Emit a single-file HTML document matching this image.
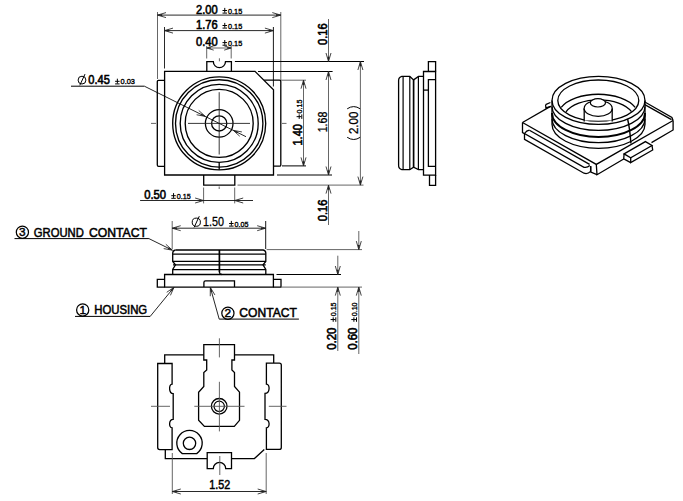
<!DOCTYPE html>
<html><head><meta charset="utf-8"><style>
html,body{margin:0;padding:0;background:#fff;overflow:hidden;}
svg{display:block;font-family:"Liberation Sans",sans-serif;}
</style></head><body>
<svg width="683" height="501" viewBox="0 0 683 501">
<rect width="683" height="501" fill="#fff"/>
<line x1="157.5" y1="12" x2="157.5" y2="79" stroke="#555" stroke-width="0.9"/>
<line x1="280.8" y1="12" x2="280.8" y2="80" stroke="#555" stroke-width="0.9"/>
<line x1="157.5" y1="15.1" x2="280.8" y2="15.1" stroke="#111" stroke-width="0.9"/>
<path d="M166.00,12.60 L157.5,15.1 L166.00,17.60" stroke="#222" stroke-width="0.85" fill="none"/>
<path d="M162.18,14.05 L157.5,15.1 L162.18,16.15Z" fill="#222"/>
<path d="M272.30,17.60 L280.8,15.1 L272.30,12.60" stroke="#222" stroke-width="0.85" fill="none"/>
<path d="M276.12,16.15 L280.8,15.1 L276.12,14.05Z" fill="#222"/>
<text x="196" y="13.6" font-size="12.2" font-weight="normal" text-anchor="start" textLength="21.7" lengthAdjust="spacingAndGlyphs" stroke="#000" stroke-width="0.6" fill="#000">2.00</text>
<g>
<line x1="222.5" y1="10.5" x2="227.0" y2="10.5" stroke="#000" stroke-width="1.0"/>
<line x1="224.75" y1="7.9" x2="224.75" y2="12.7" stroke="#000" stroke-width="1.0"/>
<line x1="222.5" y1="13.1" x2="227.0" y2="13.1" stroke="#000" stroke-width="1.0"/>
<text x="228.0" y="13.5" font-size="7.5" font-weight="normal" text-anchor="start" textLength="14.200000000000001" lengthAdjust="spacingAndGlyphs" stroke="#000" stroke-width="0.35" fill="#000">0.15</text>
</g>
<line x1="164.5" y1="27" x2="164.5" y2="68.5" stroke="#111" stroke-width="0.9"/>
<line x1="273.4" y1="27" x2="273.4" y2="86.5" stroke="#000" stroke-width="0.9"/>
<line x1="164.5" y1="30.6" x2="273.4" y2="30.6" stroke="#111" stroke-width="0.9"/>
<path d="M173.00,28.10 L164.5,30.6 L173.00,33.10" stroke="#222" stroke-width="0.85" fill="none"/>
<path d="M169.18,29.55 L164.5,30.6 L169.18,31.65Z" fill="#222"/>
<path d="M264.90,33.10 L273.4,30.6 L264.90,28.10" stroke="#222" stroke-width="0.85" fill="none"/>
<path d="M268.72,31.65 L273.4,30.6 L268.72,29.55Z" fill="#222"/>
<text x="196" y="28.5" font-size="12.2" font-weight="normal" text-anchor="start" textLength="21.7" lengthAdjust="spacingAndGlyphs" stroke="#000" stroke-width="0.6" fill="#000">1.76</text>
<g>
<line x1="222.5" y1="25.5" x2="227.0" y2="25.5" stroke="#000" stroke-width="1.0"/>
<line x1="224.75" y1="22.9" x2="224.75" y2="27.7" stroke="#000" stroke-width="1.0"/>
<line x1="222.5" y1="28.1" x2="227.0" y2="28.1" stroke="#000" stroke-width="1.0"/>
<text x="228.0" y="28.5" font-size="7.5" font-weight="normal" text-anchor="start" textLength="14.200000000000001" lengthAdjust="spacingAndGlyphs" stroke="#000" stroke-width="0.35" fill="#000">0.15</text>
</g>
<line x1="206.7" y1="46" x2="206.7" y2="58.5" stroke="#555" stroke-width="0.9"/>
<line x1="231.2" y1="46" x2="231.2" y2="58.5" stroke="#555" stroke-width="0.9"/>
<line x1="206.7" y1="48" x2="231.2" y2="48" stroke="#555" stroke-width="0.9"/>
<path d="M213.70,45.90 L206.7,48 L213.70,50.10" stroke="#222" stroke-width="0.85" fill="none"/>
<path d="M210.55,46.95 L206.7,48 L210.55,49.05Z" fill="#222"/>
<path d="M224.20,50.10 L231.2,48 L224.20,45.90" stroke="#222" stroke-width="0.85" fill="none"/>
<path d="M227.35,49.05 L231.2,48 L227.35,46.95Z" fill="#222"/>
<text x="196" y="45.9" font-size="12.2" font-weight="normal" text-anchor="start" textLength="21.7" lengthAdjust="spacingAndGlyphs" stroke="#000" stroke-width="0.6" fill="#000">0.40</text>
<g>
<line x1="222.5" y1="42.6" x2="227.0" y2="42.6" stroke="#000" stroke-width="1.0"/>
<line x1="224.75" y1="40.0" x2="224.75" y2="44.800000000000004" stroke="#000" stroke-width="1.0"/>
<line x1="222.5" y1="45.2" x2="227.0" y2="45.2" stroke="#000" stroke-width="1.0"/>
<text x="228.0" y="45.6" font-size="7.5" font-weight="normal" text-anchor="start" textLength="14.200000000000001" lengthAdjust="spacingAndGlyphs" stroke="#000" stroke-width="0.35" fill="#000">0.15</text>
</g>
<path d="M164.6,71.4 L255,71.4 L273.5,89.8 L273.5,175 L164.6,175 Z" stroke="#000" stroke-width="1.3" fill="none" />
<path d="M206.8,71.4 L206.8,61.6 L213.3,61.6 A6.1,6.1 0 0 0 225.5,61.6 L231.4,61.6 L231.4,71.4" stroke="#000" stroke-width="1.3" fill="none" />
<line x1="219.4" y1="58.3" x2="219.4" y2="61.3" stroke="#555" stroke-width="0.9"/>
<path d="M203.7,175 L203.7,185.1 L234.8,185.1 L234.8,175" stroke="#000" stroke-width="1.3" fill="none" />
<path d="M164.6,80.3 L158.4,80.3 Q157.3,80.3 157.3,81.4 L157.3,165 Q157.3,166.3 158.6,166.3 L164.6,166.3" stroke="#000" stroke-width="1.3" fill="none" />
<path d="M264.1,80.2 L279.5,80.2 Q280.8,80.2 280.8,81.5 L280.8,165 Q280.8,166.2 279.6,166.2 L273.5,166.2" stroke="#000" stroke-width="1.3" fill="none" />
<circle cx="219.2" cy="123.4" r="46.5" stroke="#000" stroke-width="1.35" fill="none"/>
<circle cx="219.2" cy="123.4" r="43.7" stroke="#000" stroke-width="1.35" fill="none"/>
<circle cx="219.2" cy="123.4" r="39.0" stroke="#000" stroke-width="1.35" fill="none"/>
<circle cx="219.2" cy="123.4" r="34.0" stroke="#000" stroke-width="1.35" fill="none"/>
<circle cx="219.2" cy="123.4" r="13.8" stroke="#000" stroke-width="1.3" fill="none"/>
<circle cx="219.2" cy="123.4" r="7.6" stroke="#000" stroke-width="1.3" fill="none"/>
<line x1="219.2" y1="92.2" x2="219.2" y2="154.5" stroke="#222" stroke-width="0.9"/>
<line x1="188" y1="123.4" x2="250" y2="123.4" stroke="#222" stroke-width="0.9"/>
<line x1="151" y1="123.4" x2="156" y2="123.4" stroke="#555" stroke-width="0.9"/>
<line x1="282" y1="123.4" x2="286.5" y2="123.4" stroke="#555" stroke-width="0.9"/>
<line x1="219.2" y1="162.6" x2="219.2" y2="169.8" stroke="#000" stroke-width="1.3"/>
<line x1="219.2" y1="186.5" x2="219.2" y2="189" stroke="#555" stroke-width="0.9"/>
<line x1="71" y1="86.2" x2="144.4" y2="86.2" stroke="#000" stroke-width="1.0"/>
<line x1="144.4" y1="86.2" x2="219.2" y2="123.4" stroke="#000" stroke-width="0.85"/>
<path d="M196.62,114.76 L205.3,116.4 L198.76,110.47" stroke="#222" stroke-width="0.85" fill="none"/>
<path d="M200.65,115.26 L205.3,116.4 L201.58,113.38Z" fill="#222"/>
<line x1="219.2" y1="123.4" x2="246" y2="136.7" stroke="#000" stroke-width="0.85"/>
<path d="M241.88,131.94 L233.2,130.3 L239.74,136.23" stroke="#222" stroke-width="0.85" fill="none"/>
<path d="M237.85,131.44 L233.2,130.3 L236.92,133.32Z" fill="#222"/>
<circle cx="82" cy="80.1" r="3.9" stroke="#000" stroke-width="1.0" fill="none"/>
<line x1="79.8" y1="85.3" x2="85.0" y2="74.1" stroke="#000" stroke-width="1.0"/>
<text x="88.3" y="83.9" font-size="12.2" font-weight="normal" text-anchor="start" textLength="21.5" lengthAdjust="spacingAndGlyphs" stroke="#000" stroke-width="0.6" fill="#000">0.45</text>
<g>
<line x1="115.1" y1="81.3" x2="119.6" y2="81.3" stroke="#000" stroke-width="1.0"/>
<line x1="117.35" y1="78.7" x2="117.35" y2="83.5" stroke="#000" stroke-width="1.0"/>
<line x1="115.1" y1="83.89999999999999" x2="119.6" y2="83.89999999999999" stroke="#000" stroke-width="1.0"/>
<text x="120.6" y="84.3" font-size="7.5" font-weight="normal" text-anchor="start" textLength="14.4" lengthAdjust="spacingAndGlyphs" stroke="#000" stroke-width="0.35" fill="#000">0.03</text>
</g>
<line x1="234.9" y1="61.5" x2="364" y2="61.5" stroke="#000" stroke-width="1.0"/>
<line x1="258" y1="71.5" x2="332.6" y2="71.5" stroke="#000" stroke-width="1.0"/>
<line x1="281" y1="80.2" x2="306" y2="80.2" stroke="#555" stroke-width="0.9"/>
<line x1="282" y1="165.9" x2="306" y2="165.9" stroke="#000" stroke-width="1.0"/>
<line x1="277" y1="175" x2="332" y2="175" stroke="#000" stroke-width="1.0"/>
<line x1="237.5" y1="185.1" x2="363.5" y2="185.1" stroke="#555" stroke-width="0.9"/>
<line x1="328.5" y1="19" x2="328.5" y2="61.5" stroke="#555" stroke-width="0.9"/>
<path d="M326.00,53.00 L328.5,61.5 L331.00,53.00" stroke="#222" stroke-width="0.85" fill="none"/>
<path d="M327.45,56.83 L328.5,61.5 L329.55,56.83Z" fill="#222"/>
<line x1="328.5" y1="71.5" x2="328.5" y2="175" stroke="#555" stroke-width="0.9"/>
<path d="M331.00,80.00 L328.5,71.5 L326.00,80.00" stroke="#222" stroke-width="0.85" fill="none"/>
<path d="M329.55,76.17 L328.5,71.5 L327.45,76.17Z" fill="#222"/>
<path d="M326.00,166.50 L328.5,175 L331.00,166.50" stroke="#222" stroke-width="0.85" fill="none"/>
<path d="M327.45,170.32 L328.5,175 L329.55,170.32Z" fill="#222"/>
<text x="327.4" y="45" font-size="12.2" font-weight="normal" text-anchor="start" transform="rotate(-90 327.4 45)" textLength="21.8" lengthAdjust="spacingAndGlyphs" stroke="#000" stroke-width="0.6" fill="#000">0.16</text>
<text x="327.4" y="132.3" font-size="12.2" font-weight="normal" text-anchor="start" transform="rotate(-90 327.4 132.3)" textLength="20.6" lengthAdjust="spacingAndGlyphs" stroke="#000" stroke-width="0.3" fill="#000">1.68</text>
<line x1="328.5" y1="185.1" x2="328.5" y2="225" stroke="#555" stroke-width="0.9"/>
<path d="M331.00,193.60 L328.5,185.1 L326.00,193.60" stroke="#222" stroke-width="0.85" fill="none"/>
<path d="M329.55,189.78 L328.5,185.1 L327.45,189.78Z" fill="#222"/>
<text x="327.2" y="221.3" font-size="12.2" font-weight="normal" text-anchor="start" transform="rotate(-90 327.2 221.3)" textLength="21.8" lengthAdjust="spacingAndGlyphs" stroke="#000" stroke-width="0.6" fill="#000">0.16</text>
<line x1="303.5" y1="80.2" x2="303.5" y2="165.9" stroke="#555" stroke-width="0.9"/>
<path d="M306.00,88.70 L303.5,80.2 L301.00,88.70" stroke="#222" stroke-width="0.85" fill="none"/>
<path d="M304.55,84.88 L303.5,80.2 L302.45,84.88Z" fill="#222"/>
<path d="M301.00,157.40 L303.5,165.9 L306.00,157.40" stroke="#222" stroke-width="0.85" fill="none"/>
<path d="M302.45,161.22 L303.5,165.9 L304.55,161.22Z" fill="#222"/>
<text x="301.6" y="145.5" font-size="12.2" font-weight="normal" text-anchor="start" transform="rotate(-90 301.6 145.5)" textLength="21.4" lengthAdjust="spacingAndGlyphs" stroke="#000" stroke-width="0.6" fill="#000">1.40</text>
<g transform="rotate(-90 302.2 119)">
<line x1="302.3" y1="116.0" x2="306.8" y2="116.0" stroke="#000" stroke-width="1.0"/>
<line x1="304.55" y1="113.4" x2="304.55" y2="118.2" stroke="#000" stroke-width="1.0"/>
<line x1="302.3" y1="118.6" x2="306.8" y2="118.6" stroke="#000" stroke-width="1.0"/>
<text x="307.8" y="119" font-size="7.5" font-weight="normal" text-anchor="start" textLength="13.9" lengthAdjust="spacingAndGlyphs" stroke="#000" stroke-width="0.35" fill="#000">0.15</text>
</g>
<line x1="360.4" y1="61.5" x2="360.4" y2="185.1" stroke="#555" stroke-width="0.9"/>
<path d="M362.90,70.00 L360.4,61.5 L357.90,70.00" stroke="#222" stroke-width="0.85" fill="none"/>
<path d="M361.45,66.17 L360.4,61.5 L359.35,66.17Z" fill="#222"/>
<path d="M357.90,176.60 L360.4,185.1 L362.90,176.60" stroke="#222" stroke-width="0.85" fill="none"/>
<path d="M359.35,180.42 L360.4,185.1 L361.45,180.42Z" fill="#222"/>
<text x="358.1" y="134" font-size="12.2" font-weight="normal" text-anchor="start" transform="rotate(-90 358.1 134)" textLength="22.3" lengthAdjust="spacingAndGlyphs" stroke="#000" stroke-width="0.3" fill="#000">2.00</text>
<path d="M347.2,108.8 Q353.7,104.4 360.2,108.8" stroke="#000" stroke-width="1.0" fill="none" />
<path d="M347.2,137.3 Q353.7,141.7 360.2,137.3" stroke="#000" stroke-width="1.0" fill="none" />
<line x1="203.6" y1="187.5" x2="203.6" y2="203.4" stroke="#555" stroke-width="0.9"/>
<line x1="234.7" y1="187.5" x2="234.7" y2="203.4" stroke="#555" stroke-width="0.9"/>
<line x1="140.1" y1="200.5" x2="253" y2="200.5" stroke="#111" stroke-width="0.9"/>
<path d="M195.10,203.00 L203.6,200.5 L195.10,198.00" stroke="#222" stroke-width="0.85" fill="none"/>
<path d="M198.92,201.55 L203.6,200.5 L198.92,199.45Z" fill="#222"/>
<path d="M243.20,198.00 L234.7,200.5 L243.20,203.00" stroke="#222" stroke-width="0.85" fill="none"/>
<path d="M239.38,199.45 L234.7,200.5 L239.38,201.55Z" fill="#222"/>
<text x="144.2" y="198.8" font-size="12.2" font-weight="normal" text-anchor="start" textLength="21.9" lengthAdjust="spacingAndGlyphs" stroke="#000" stroke-width="0.6" fill="#000">0.50</text>
<g>
<line x1="171.29999999999998" y1="195.7" x2="175.79999999999998" y2="195.7" stroke="#000" stroke-width="1.0"/>
<line x1="173.54999999999998" y1="193.1" x2="173.54999999999998" y2="197.89999999999998" stroke="#000" stroke-width="1.0"/>
<line x1="171.29999999999998" y1="198.29999999999998" x2="175.79999999999998" y2="198.29999999999998" stroke="#000" stroke-width="1.0"/>
<text x="176.79999999999998" y="198.7" font-size="7.5" font-weight="normal" text-anchor="start" textLength="14.000000000000002" lengthAdjust="spacingAndGlyphs" stroke="#000" stroke-width="0.35" fill="#000">0.15</text>
</g>
<line x1="172.2" y1="221" x2="172.2" y2="249" stroke="#555" stroke-width="0.9"/>
<line x1="265.7" y1="221" x2="265.7" y2="249" stroke="#000" stroke-width="0.9"/>
<line x1="172.2" y1="228.2" x2="265.7" y2="228.2" stroke="#111" stroke-width="0.9"/>
<path d="M180.70,225.70 L172.2,228.2 L180.70,230.70" stroke="#222" stroke-width="0.85" fill="none"/>
<path d="M176.88,227.15 L172.2,228.2 L176.88,229.25Z" fill="#222"/>
<path d="M257.20,230.70 L265.7,228.2 L257.20,225.70" stroke="#222" stroke-width="0.85" fill="none"/>
<path d="M261.02,229.25 L265.7,228.2 L261.02,227.15Z" fill="#222"/>
<circle cx="196.3" cy="222.2" r="4.1" stroke="#000" stroke-width="1.0" fill="none"/>
<line x1="194.10000000000002" y1="227.39999999999998" x2="199.3" y2="216.2" stroke="#000" stroke-width="1.0"/>
<text x="202.9" y="226.4" font-size="12.9" font-weight="normal" text-anchor="start" textLength="21" lengthAdjust="spacingAndGlyphs" stroke="#000" stroke-width="0.3" fill="#000">1.50</text>
<g>
<line x1="229.1" y1="223.5" x2="233.6" y2="223.5" stroke="#000" stroke-width="1.0"/>
<line x1="231.35" y1="220.9" x2="231.35" y2="225.7" stroke="#000" stroke-width="1.0"/>
<line x1="229.1" y1="226.1" x2="233.6" y2="226.1" stroke="#000" stroke-width="1.0"/>
<text x="234.6" y="226.5" font-size="7.5" font-weight="normal" text-anchor="start" textLength="13.9" lengthAdjust="spacingAndGlyphs" stroke="#000" stroke-width="0.35" fill="#000">0.05</text>
</g>
<line x1="173" y1="254.1" x2="265.7" y2="254.1" stroke="#000" stroke-width="1.3"/>
<line x1="173" y1="261.4" x2="265.7" y2="261.4" stroke="#000" stroke-width="1.3"/>
<line x1="173" y1="264.9" x2="265.7" y2="264.9" stroke="#000" stroke-width="1.3"/>
<line x1="173" y1="269.6" x2="265.7" y2="269.6" stroke="#000" stroke-width="1.3"/>
<path d="M175.5,250 L263.2,250 Q265.7,250.5 265.8,253 L265.8,261.4 L263,264.9 L265.8,269.5 L265.8,274.5" stroke="#000" stroke-width="1.3" fill="none" />
<path d="M175.5,250 Q172.9,250.5 172.7,253 L172.7,261.4 L175.5,264.9 L172.7,269.5 L172.7,274.5" stroke="#000" stroke-width="1.3" fill="none" />
<line x1="219.4" y1="250" x2="219.4" y2="272" stroke="#000" stroke-width="1.7"/>
<path d="M219.4,272 Q219.6,274.4 222,274.5" stroke="#000" stroke-width="1.3" fill="none" />
<path d="M164.6,274.5 L273.4,274.5 L273.4,287.1 L164.6,287.1 Z" stroke="#000" stroke-width="1.3" fill="none" />
<path d="M164.6,279.3 L157.3,279.3 L157.3,287.1 L164.6,287.1" stroke="#000" stroke-width="1.3" fill="none" />
<path d="M273.4,279.3 L281,279.3 L281,287.1 L273.4,287.1" stroke="#000" stroke-width="1.3" fill="none" />
<path d="M203.9,287.1 L203.9,282.5 Q203.9,280.8 205.6,280.8 L234.5,280.8 L234.5,287.1" stroke="#000" stroke-width="1.3" fill="none" />
<line x1="266.6" y1="249.6" x2="362" y2="249.6" stroke="#555" stroke-width="0.9"/>
<line x1="276.5" y1="274.5" x2="341" y2="274.5" stroke="#000" stroke-width="1.0"/>
<line x1="282" y1="287.1" x2="362" y2="287.1" stroke="#555" stroke-width="0.9"/>
<line x1="358.8" y1="231" x2="358.8" y2="249.6" stroke="#555" stroke-width="0.9"/>
<path d="M356.30,241.10 L358.8,249.6 L361.30,241.10" stroke="#222" stroke-width="0.85" fill="none"/>
<path d="M357.75,244.92 L358.8,249.6 L359.85,244.92Z" fill="#222"/>
<line x1="358.8" y1="287.1" x2="358.8" y2="354" stroke="#555" stroke-width="0.9"/>
<path d="M361.30,295.60 L358.8,287.1 L356.30,295.60" stroke="#222" stroke-width="0.85" fill="none"/>
<path d="M359.85,291.78 L358.8,287.1 L357.75,291.78Z" fill="#222"/>
<line x1="337.8" y1="255.7" x2="337.8" y2="274.5" stroke="#555" stroke-width="0.9"/>
<path d="M335.30,266.00 L337.8,274.5 L340.30,266.00" stroke="#222" stroke-width="0.85" fill="none"/>
<path d="M336.75,269.82 L337.8,274.5 L338.85,269.82Z" fill="#222"/>
<line x1="337.8" y1="287.1" x2="337.8" y2="351" stroke="#555" stroke-width="0.9"/>
<path d="M340.30,295.60 L337.8,287.1 L335.30,295.60" stroke="#222" stroke-width="0.85" fill="none"/>
<path d="M338.85,291.78 L337.8,287.1 L336.75,291.78Z" fill="#222"/>
<text x="336.4" y="349.8" font-size="12.2" font-weight="normal" text-anchor="start" transform="rotate(-90 336.4 349.8)" textLength="22.3" lengthAdjust="spacingAndGlyphs" stroke="#000" stroke-width="0.6" fill="#000">0.20</text>
<g transform="rotate(-90 336.2 321.9)">
<line x1="336.3" y1="318.9" x2="340.8" y2="318.9" stroke="#000" stroke-width="1.0"/>
<line x1="338.55" y1="316.29999999999995" x2="338.55" y2="321.09999999999997" stroke="#000" stroke-width="1.0"/>
<line x1="336.3" y1="321.5" x2="340.8" y2="321.5" stroke="#000" stroke-width="1.0"/>
<text x="341.8" y="321.9" font-size="7.5" font-weight="normal" text-anchor="start" textLength="13.9" lengthAdjust="spacingAndGlyphs" stroke="#000" stroke-width="0.35" fill="#000">0.15</text>
</g>
<text x="357.1" y="349.8" font-size="12.2" font-weight="normal" text-anchor="start" transform="rotate(-90 357.1 349.8)" textLength="22.3" lengthAdjust="spacingAndGlyphs" stroke="#000" stroke-width="0.6" fill="#000">0.60</text>
<g transform="rotate(-90 356.9 321.9)">
<line x1="357.0" y1="318.9" x2="361.5" y2="318.9" stroke="#000" stroke-width="1.0"/>
<line x1="359.25" y1="316.29999999999995" x2="359.25" y2="321.09999999999997" stroke="#000" stroke-width="1.0"/>
<line x1="357.0" y1="321.5" x2="361.5" y2="321.5" stroke="#000" stroke-width="1.0"/>
<text x="362.5" y="321.9" font-size="7.5" font-weight="normal" text-anchor="start" textLength="13.9" lengthAdjust="spacingAndGlyphs" stroke="#000" stroke-width="0.35" fill="#000">0.10</text>
</g>
<circle cx="22.4" cy="232.2" r="6.1" stroke="#000" stroke-width="1.25" fill="none"/>
<text x="22.4" y="236.39999999999998" font-size="11.8" font-weight="normal" text-anchor="middle" stroke="#000" stroke-width="0.45" fill="#000">3</text>
<text x="33.8" y="236.6" font-size="13.2" font-weight="normal" text-anchor="start" textLength="50" lengthAdjust="spacingAndGlyphs" stroke="#000" stroke-width="0.55" fill="#000">GROUND</text>
<text x="88.9" y="236.6" font-size="13.2" font-weight="normal" text-anchor="start" textLength="58" lengthAdjust="spacingAndGlyphs" stroke="#000" stroke-width="0.55" fill="#000">CONTACT</text>
<line x1="14.5" y1="238.6" x2="148.9" y2="238.6" stroke="#000" stroke-width="1.0"/>
<line x1="148.9" y1="238.6" x2="172.4" y2="250.2" stroke="#000" stroke-width="0.85"/>
<path d="M163.71,248.60 L172.4,250.2 L165.84,244.29" stroke="#222" stroke-width="0.85" fill="none"/>
<path d="M167.74,249.08 L172.4,250.2 L168.67,247.19Z" fill="#222"/>
<circle cx="82.7" cy="309.9" r="6.1" stroke="#000" stroke-width="1.25" fill="none"/>
<text x="82.7" y="314.09999999999997" font-size="11.8" font-weight="normal" text-anchor="middle" stroke="#000" stroke-width="0.45" fill="#000">1</text>
<text x="94.2" y="314.4" font-size="13.2" font-weight="normal" text-anchor="start" textLength="53" lengthAdjust="spacingAndGlyphs" stroke="#000" stroke-width="0.55" fill="#000">HOUSING</text>
<line x1="75" y1="316.4" x2="150.2" y2="316.4" stroke="#000" stroke-width="1.0"/>
<line x1="150.2" y1="316.4" x2="174" y2="287.3" stroke="#000" stroke-width="0.85"/>
<path d="M170.42,295.37 L174,287.3 L166.72,292.31" stroke="#222" stroke-width="0.85" fill="none"/>
<path d="M171.82,291.57 L174,287.3 L170.21,290.23Z" fill="#222"/>
<circle cx="227.9" cy="313.2" r="6.1" stroke="#000" stroke-width="1.25" fill="none"/>
<text x="227.9" y="317.4" font-size="11.8" font-weight="normal" text-anchor="middle" stroke="#000" stroke-width="0.45" fill="#000">2</text>
<text x="239.3" y="317.4" font-size="13.2" font-weight="normal" text-anchor="start" textLength="57.5" lengthAdjust="spacingAndGlyphs" stroke="#000" stroke-width="0.55" fill="#000">CONTACT</text>
<line x1="219.2" y1="319.1" x2="298.9" y2="319.1" stroke="#000" stroke-width="1.0"/>
<line x1="219.2" y1="319.1" x2="210.3" y2="287.4" stroke="#000" stroke-width="0.85"/>
<path d="M214.90,294.94 L210.3,287.4 L210.28,296.23" stroke="#222" stroke-width="0.85" fill="none"/>
<path d="M212.57,291.62 L210.3,287.4 L210.55,292.18Z" fill="#222"/>
<path d="M423.5,71.5 L435.6,71.5 L435.6,175.1 L423.5,175.1 Z" stroke="#000" stroke-width="1.3" fill="none" />
<path d="M428.4,71.5 L428.4,61.6 L435.6,61.6 L435.6,71.5" stroke="#000" stroke-width="1.3" fill="none" />
<path d="M429.5,175.1 L429.5,185.3 L435.6,185.3 L435.6,175.1" stroke="#000" stroke-width="1.3" fill="none" />
<path d="M435.6,79.7 L428.4,79.7 L428.4,166.3 L435.6,166.3" stroke="#000" stroke-width="1.3" fill="none" />
<line x1="423.5" y1="90.1" x2="428.4" y2="90.1" stroke="#000" stroke-width="1.3"/>
<line x1="403.1" y1="76.6" x2="403.1" y2="169.4" stroke="#000" stroke-width="1.2"/>
<line x1="409.8" y1="76.6" x2="409.8" y2="169.4" stroke="#000" stroke-width="1.2"/>
<line x1="418.4" y1="76.6" x2="418.4" y2="169.4" stroke="#000" stroke-width="1.2"/>
<line x1="413.6" y1="79.7" x2="413.6" y2="167.4" stroke="#000" stroke-width="1.7"/>
<path d="M423.3,76.4 L418.5,76.4 L413.6,79.9 L409.8,76.4 L401.8,76.4 Q398.6,77.2 398.6,80.5 L398.6,165.6 Q398.6,168.9 401.8,169.6 L409.8,169.6 L413.6,167.2 L418.5,169.6 L423.3,169.6" stroke="#000" stroke-width="1.3" fill="none" />
<path d="M164.7,363.3 L164.7,354.8 L203.8,354.8" stroke="#000" stroke-width="1.3" fill="none" />
<path d="M234.5,354.8 L273.7,354.8 L273.7,363.1" stroke="#000" stroke-width="1.3" fill="none" />
<path d="M165.3,449.6 L165.3,458.6 L207.2,458.6" stroke="#000" stroke-width="1.3" fill="none" />
<path d="M231.5,458.6 L254.4,458.6 L264.3,449.5" stroke="#000" stroke-width="1.3" fill="none" />
<path d="M172.1,363.5 L157.7,363.5 L157.7,447.6 Q157.7,449.6 159.7,449.6 L172.1,449.6 L172.1,427.8 C168.6,427.8 168.6,419.3 173.2,419.3 L173.2,393.6 C168.6,393.6 168.6,384.1 172.1,384.1 Z" stroke="#000" stroke-width="1.3" fill="none" />
<path d="M266.4,363.1 L279.3,363.1 Q281.3,363.1 281.3,365.1 L281.3,447.4 Q281.3,449.4 279.3,449.4 L266.4,449.4 L266.4,427.8 C270.2,427.8 270.2,419.3 265,419.3 L265,393.3 C270.2,393.3 270.2,384.1 266.4,384.1 Z" stroke="#000" stroke-width="1.3" fill="none" />
<path d="M203.8,354.8 L203.8,344.6 L234.5,344.6 L234.5,360 L231.9,360 L231.9,369.9 L234.5,372.6 L234.5,386.4 L239.5,392.2 L239.5,420.3 L234.3,426.4 L204.4,426.4 L198.6,420.3 L198.6,392.2 L203.8,386.4 L203.8,372.6 L206.7,369.9 L206.7,360 L203.8,360 Z" stroke="#000" stroke-width="1.3" fill="none" />
<circle cx="219.2" cy="406.3" r="7.8" stroke="#000" stroke-width="1.3" fill="none"/>
<circle cx="219.2" cy="406.3" r="5.2" stroke="#000" stroke-width="1.2" fill="none"/>
<path d="M207.2,458.6 L207.2,452.6 L231.5,452.6 L231.5,468.6 L225.7,468.6 A6.2,6.2 0 0 0 213.3,468.6 L207.2,468.6 Z" stroke="#000" stroke-width="1.3" fill="none" />
<path d="M182.3,453.6 A12.7,12.7 0 1 1 196.7,453.6 Z" stroke="#000" stroke-width="1.3" fill="none" />
<circle cx="189.5" cy="443.3" r="6.2" stroke="#000" stroke-width="1.3" fill="none"/>
<line x1="219.4" y1="338.3" x2="219.4" y2="357.4" stroke="#555" stroke-width="0.9"/>
<line x1="219.4" y1="381.8" x2="219.4" y2="431.4" stroke="#555" stroke-width="0.9"/>
<line x1="219.8" y1="456" x2="219.8" y2="475" stroke="#555" stroke-width="0.9"/>
<line x1="151" y1="406.3" x2="170" y2="406.3" stroke="#555" stroke-width="0.9"/>
<line x1="194.3" y1="406.3" x2="244.5" y2="406.3" stroke="#555" stroke-width="0.9"/>
<line x1="268.8" y1="406.3" x2="286.5" y2="406.3" stroke="#555" stroke-width="0.9"/>
<line x1="172.3" y1="453" x2="172.3" y2="494" stroke="#555" stroke-width="0.9"/>
<line x1="266.2" y1="453" x2="266.2" y2="494" stroke="#555" stroke-width="0.9"/>
<line x1="172.3" y1="491.5" x2="266.2" y2="491.5" stroke="#111" stroke-width="0.9"/>
<path d="M180.80,489.00 L172.3,491.5 L180.80,494.00" stroke="#222" stroke-width="0.85" fill="none"/>
<path d="M176.98,490.45 L172.3,491.5 L176.98,492.55Z" fill="#222"/>
<path d="M257.70,494.00 L266.2,491.5 L257.70,489.00" stroke="#222" stroke-width="0.85" fill="none"/>
<path d="M261.52,492.55 L266.2,491.5 L261.52,490.45Z" fill="#222"/>
<text x="209.3" y="488.6" font-size="12.2" font-weight="normal" text-anchor="start" textLength="20.9" lengthAdjust="spacingAndGlyphs" stroke="#000" stroke-width="0.5" fill="#000">1.52</text>
<path d="M522.5,122.5 L550.5,106.4" stroke="#000" stroke-width="1.3" fill="none" />
<path d="M522.5,122.5 L596.3,164.4 L673.1,120.5" stroke="#000" stroke-width="1.3" fill="none" />
<path d="M644.4,101.8 L671.9,117.4 L673.1,120.5" stroke="#000" stroke-width="1.3" fill="none" />
<path d="M644.8,104.6 L671.5,119.6" stroke="#000" stroke-width="1.3" fill="none" />
<path d="M522.5,122.5 L522.5,132.7 L524.5,133.6" stroke="#000" stroke-width="1.3" fill="none" />
<path d="M673.1,120.5 L673.1,130 L651.5,142.6" stroke="#000" stroke-width="1.3" fill="none" />
<path d="M623.7,159 L597,174.7 L596.3,164.4" stroke="#000" stroke-width="1.3" fill="none" />
<path d="M590.8,166.2 L590.8,172 L597,174.7" stroke="#000" stroke-width="1.3" fill="none" />
<path d="M529.4,130.2 L589.6,164.4" stroke="#000" stroke-width="1.3" fill="none" />
<path d="M529.4,130.2 Q526.5,130.6 524.5,133.5 L584,167.3 Q587.2,168 589.8,165.6" stroke="#000" stroke-width="1.3" fill="none" />
<path d="M524.5,133.5 L524.5,139.4 L584,173.2 Q587.6,174.5 590.6,171.4 L590.6,166" stroke="#000" stroke-width="1.3" fill="none" />
<path d="M545.6,104.6 L550.4,102.5 M545.6,104.6 L545.9,107.9 L551,106.4" stroke="#000" stroke-width="1.3" fill="none" />
<path d="M624.1,153.9 L645.4,141.6 L652,145.5 L630.7,157.7 Z" stroke="#000" stroke-width="1.3" fill="none" />
<path d="M630.7,157.7 L630.7,162.6 L652.7,150 L652,145.5" stroke="#000" stroke-width="1.3" fill="none" />
<path d="M624.1,153.9 L623.7,158.8 L630.7,162.6" stroke="#000" stroke-width="1.3" fill="none" />
<ellipse cx="598.5" cy="100.4" rx="46.5" ry="24.0" stroke="#000" stroke-width="1.3" fill="none"/>
<ellipse cx="598.3" cy="100.6" rx="40.5" ry="20.6" stroke="#000" stroke-width="1.3" fill="none"/>
<path d="M552,100.4 L552,124.4" stroke="#000" stroke-width="1.3" fill="none" />
<path d="M645,100.4 L645,124.4" stroke="#000" stroke-width="1.3" fill="none" />
<path d="M552.0,106.4 A46.5,24.0 0 0 0 645.0,106.4" stroke="#000" stroke-width="1.3" fill="none" />
<path d="M552.0,113.0 A46.5,24.0 0 0 0 645.0,113.0" stroke="#000" stroke-width="2.0" fill="none" />
<path d="M552.0,118.7 A46.5,24.0 0 0 0 645.0,118.7" stroke="#000" stroke-width="1.3" fill="none" />
<path d="M552.0,124.30000000000001 A46.5,24.0 0 0 0 645.0,124.30000000000001" stroke="#000" stroke-width="1.3" fill="none" />
<path d="M561.2,107.4 A40,21.2 0 0 1 635.2,107.4" stroke="#000" stroke-width="1.3" fill="none" />
<path d="M566,111.84 A35,18.5 0 0 1 631.5,111.70" stroke="#000" stroke-width="1.3" fill="none" />
<ellipse cx="598.2" cy="108.4" rx="14" ry="7.9" fill="#fff" stroke="#000" stroke-width="1.2"/>
<rect x="584.2" y="108.4" width="28" height="12.1" fill="#fff"/>
<ellipse cx="597.9" cy="102.85" rx="7.6" ry="4.15" fill="#fff" stroke="#000" stroke-width="1.2"/>
<path d="M584.2,108.4 A14,7.9 0 0 0 612.2,108.4" stroke="#000" stroke-width="1.3" fill="none" />
<path d="M584.2,108.4 L584.2,121.4" stroke="#000" stroke-width="1.3" fill="none" />
<path d="M612.2,108.4 L612.2,121.4" stroke="#000" stroke-width="1.3" fill="none" />
<path d="M627.6,119 Q629.8,128 630.9,143.5" stroke="#000" stroke-width="1.4" fill="none" />
</svg></body></html>
